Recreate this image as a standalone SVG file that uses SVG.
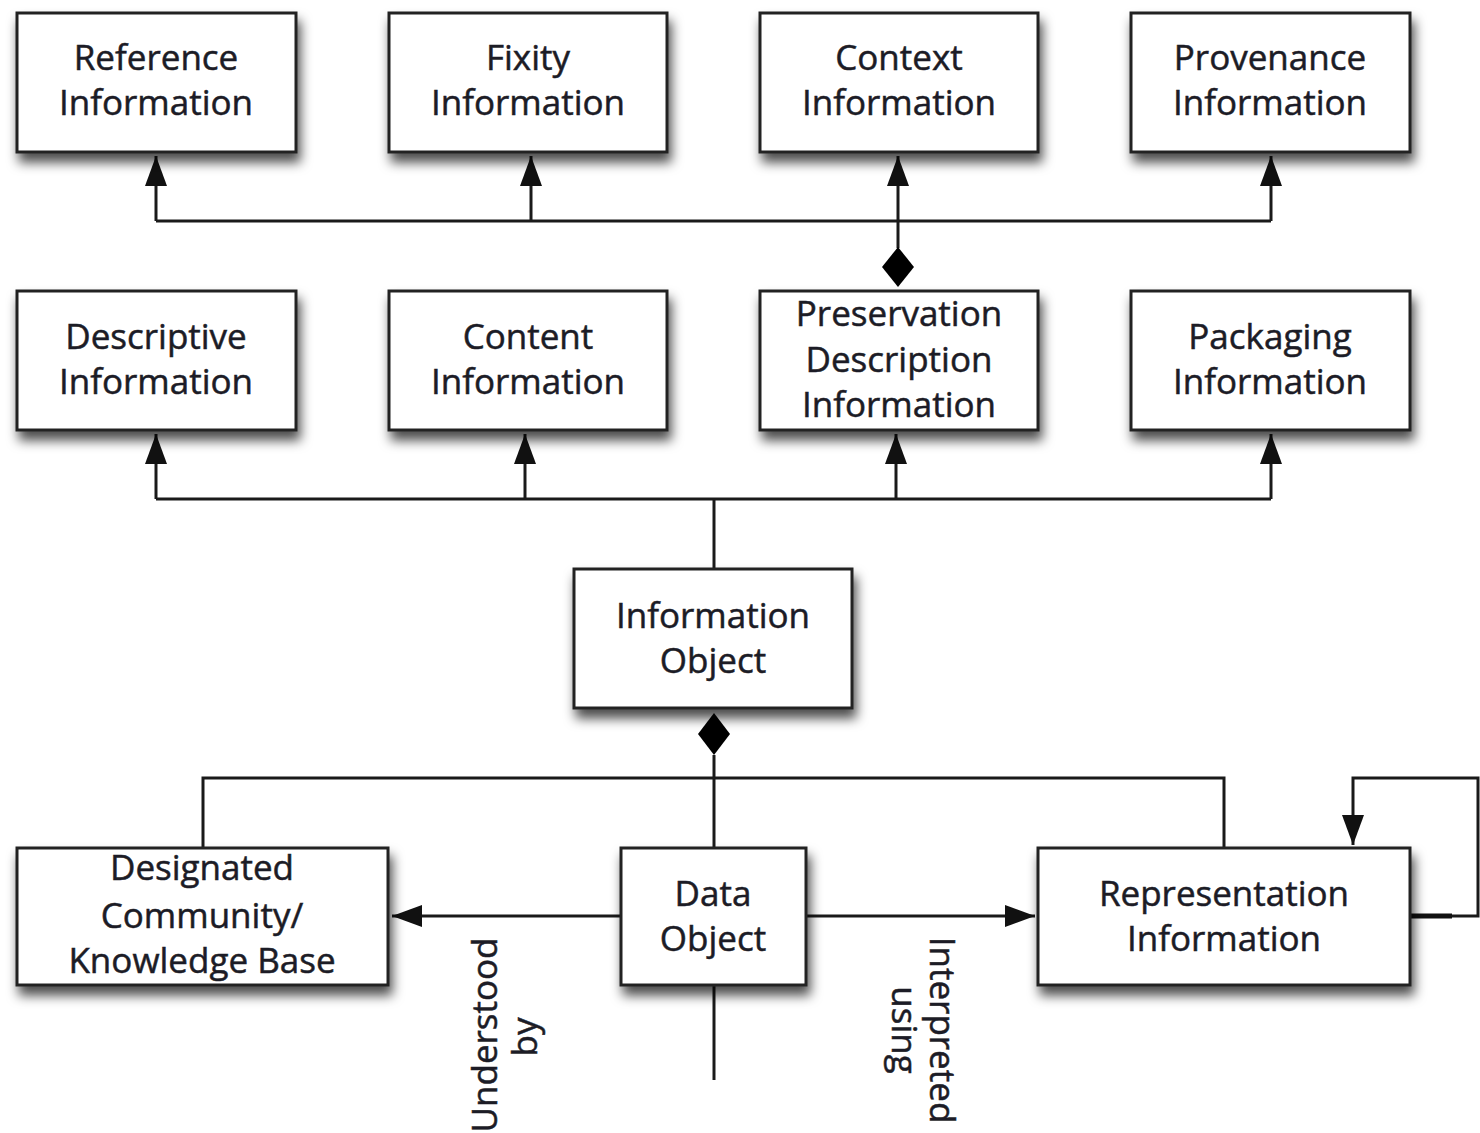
<svg xmlns="http://www.w3.org/2000/svg" width="1480" height="1133" viewBox="0 0 1480 1133">
<defs>
<filter id="sh" x="-20%" y="-20%" width="140%" height="150%">
<feDropShadow dx="3" dy="9" stdDeviation="6" flood-color="#000" flood-opacity="0.7"/>
</filter>
<marker id="arr" viewBox="0 0 30 22" refX="30" refY="11" markerWidth="30" markerHeight="22" markerUnits="userSpaceOnUse" orient="auto">
<path d="M0,0 L30,11 L0,22 Z" fill="#111"/>
</marker>
</defs>
<style>
.box{fill:#fff;stroke:#222;stroke-width:3;filter:url(#sh)}
.t{font-family:"Open Sans","Liberation Sans",sans-serif;font-size:35px;fill:#1c1c26;stroke:#1c1c26;stroke-width:0.5;text-anchor:middle}
.ln{fill:none;stroke:#1a1a1a;stroke-width:3}
.dm{fill:#000}
</style>
<g id="connectors">
<path class="ln" d="M156,221 H1271"/>
<path class="ln" d="M156,221 V156" marker-end="url(#arr)"/>
<path class="ln" d="M531,221 V156" marker-end="url(#arr)"/>
<path class="ln" d="M898,248 V156" marker-end="url(#arr)"/>
<path class="ln" d="M1271,221 V156" marker-end="url(#arr)"/>
<path class="dm" d="M898,247 L914,267 L898,287 L882,267 Z"/>
<path class="ln" d="M156,499 H1271"/>
<path class="ln" d="M156,499 V434" marker-end="url(#arr)"/>
<path class="ln" d="M525,499 V434" marker-end="url(#arr)"/>
<path class="ln" d="M896,499 V434" marker-end="url(#arr)"/>
<path class="ln" d="M1271,499 V434" marker-end="url(#arr)"/>
<path class="ln" d="M714,499 V569"/>
<path class="dm" d="M714,713 L730,734 L714,755 L698,734 Z"/>
<path class="ln" d="M714,755 V848"/>
<path class="ln" d="M203,848 V778 H1224 V848"/>
<path class="ln" d="M621,916 H392" marker-end="url(#arr)"/>
<path class="ln" d="M806,916 H1035" marker-end="url(#arr)"/>
<path class="ln" d="M714,985 V1080"/>
<path class="ln" d="M1410,916 H1478 V778 H1353 V845" marker-end="url(#arr)"/>
<path d="M1410,916 H1452" stroke="#111" stroke-width="5"/>
<text class="t" transform="translate(497,1035) rotate(-90)">Understood</text>
<text class="t" transform="translate(537,1037) rotate(-90)">by</text>
<text class="t" transform="translate(930,1030) rotate(90)">Interpreted</text>
<text class="t" transform="translate(892,1030) rotate(90)">using</text>
</g>
<g id="reference-information">
<rect class="box" x="17" y="13" width="279" height="139"/>
<text class="t" x="156" y="70">Reference</text>
<text class="t" x="156" y="115">Information</text>
</g>
<g id="fixity-information">
<rect class="box" x="389" y="13" width="278" height="139"/>
<text class="t" x="528" y="70">Fixity</text>
<text class="t" x="528" y="115">Information</text>
</g>
<g id="context-information">
<rect class="box" x="760" y="13" width="278" height="139"/>
<text class="t" x="899" y="70">Context</text>
<text class="t" x="899" y="115">Information</text>
</g>
<g id="provenance-information">
<rect class="box" x="1131" y="13" width="279" height="139"/>
<text class="t" x="1270" y="70">Provenance</text>
<text class="t" x="1270" y="115">Information</text>
</g>
<g id="descriptive-information">
<rect class="box" x="17" y="291" width="279" height="139"/>
<text class="t" x="156" y="349">Descriptive</text>
<text class="t" x="156" y="394">Information</text>
</g>
<g id="content-information">
<rect class="box" x="389" y="291" width="278" height="139"/>
<text class="t" x="528" y="349">Content</text>
<text class="t" x="528" y="394">Information</text>
</g>
<g id="preservation-description-information">
<rect class="box" x="760" y="291" width="278" height="139"/>
<text class="t" x="899" y="326">Preservation</text>
<text class="t" x="899" y="372">Description</text>
<text class="t" x="899" y="417">Information</text>
</g>
<g id="packaging-information">
<rect class="box" x="1131" y="291" width="279" height="139"/>
<text class="t" x="1270" y="349">Packaging</text>
<text class="t" x="1270" y="394">Information</text>
</g>
<g id="information-object">
<rect class="box" x="574" y="569" width="278" height="139"/>
<text class="t" x="713" y="628">Information</text>
<text class="t" x="713" y="673">Object</text>
</g>
<g id="designated-community">
<rect class="box" x="17" y="848" width="371" height="137"/>
<text class="t" x="202" y="880">Designated</text>
<text class="t" x="202" y="928">Community/</text>
<text class="t" x="202" y="973">Knowledge Base</text>
</g>
<g id="data-object">
<rect class="box" x="621" y="848" width="185" height="137"/>
<text class="t" x="713" y="906">Data</text>
<text class="t" x="713" y="951">Object</text>
</g>
<g id="representation-information">
<rect class="box" x="1038" y="848" width="372" height="137"/>
<text class="t" x="1224" y="906">Representation</text>
<text class="t" x="1224" y="951">Information</text>
</g>
</svg>
